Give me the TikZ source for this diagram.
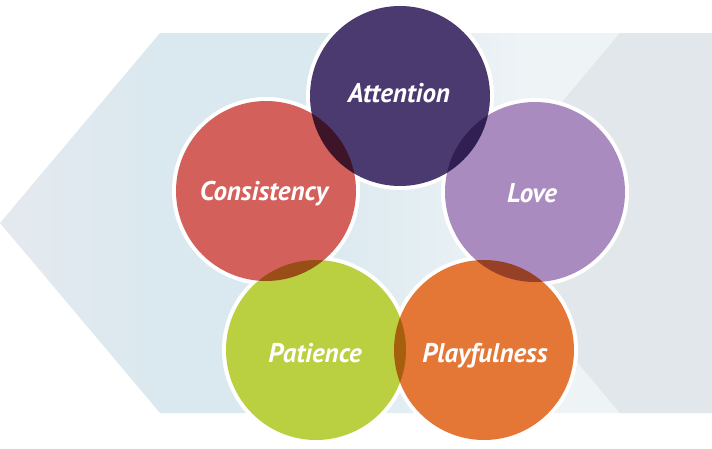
\documentclass[tikz,border=0pt]{standalone}
\usepackage{fontspec}
\setsansfont{PT Sans}
\usepackage{tikz}

\definecolor{attn}{RGB}{75,58,111}
\definecolor{cons}{RGB}{212,96,92}
\definecolor{love}{RGB}{169,139,192}
\definecolor{pati}{RGB}{186,208,64}
\definecolor{play}{RGB}{228,118,54}
\definecolor{bgA}{RGB}{229,233,239}
\definecolor{bgB}{RGB}{218,233,239}
\definecolor{bgC}{RGB}{238,243,246}
\definecolor{bgD}{RGB}{225,231,235}

\pgfdeclarehorizontalshading{bgfade}{100bp}{color(0bp)=(bgA); color(25bp)=(bgA);
  color(36bp)=(bgB); color(47bp)=(bgB); color(62bp)=(bgC); color(100bp)=(bgC)}

\begin{document}
\begin{tikzpicture}[x=1pt,y=-1pt,
    disc/.style={circle, fill=white, minimum size=188pt, inner sep=0pt},
    word/.style={anchor=base, text=white, inner sep=0pt,
      font=\sffamily\bfseries\itshape\fontsize{27}{27}\selectfont}]
  \useasboundingbox (0,0) rectangle (712,448);
  % background arrows
  \shade[shading=bgfade] (0,223) -- (160,33) -- (712,33) -- (712,413) -- (160,413) -- cycle;
  \fill[bgD] (460,223) -- (620,33) -- (712,33) -- (712,413) -- (620,413) -- cycle;
  % white rims
  \node[disc] (attention) at (400,96) {};
  \node[disc] (consistency) at (266,191) {};
  \node[disc] (lovec) at (535,192) {};
  \node[disc] (patience) at (316,350) {};
  \node[disc] (playfulness) at (484,350) {};
  % coloured circles
  \begin{scope}[blend group=multiply]
    \fill[attn] (attention) circle (90);
    \fill[cons] (consistency) circle (90);
    \fill[love] (lovec) circle (90);
    \fill[pati] (patience) circle (90);
    \fill[play] (playfulness) circle (90);
  \end{scope}
  % labels
  \node[word] (attention-txt) at (399,102) {Attention};
  \node[word] (consistency-txt) at (264,200) {Consistency};
  \node[word] (love-txt) at (532,202) {Love};
  \node[word] (patience-txt) at (315,362) {Patience};
  \node[word] (playfulness-txt) at (485,362) {Playfulness};
\end{tikzpicture}
\end{document}
